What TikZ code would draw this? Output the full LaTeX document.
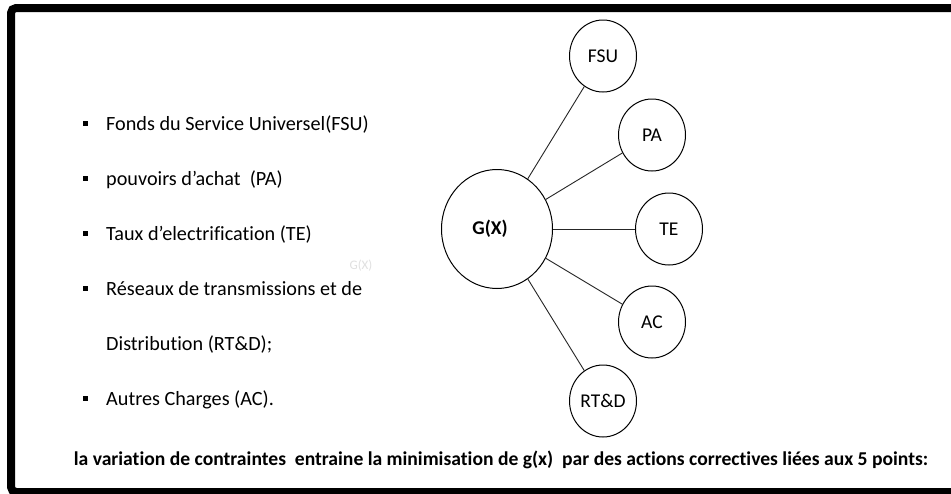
\documentclass[tikz,border=0pt]{standalone}
\usepackage{fontspec}
\setmainfont[Ligatures=NoCommon]{Carlito}
\usetikzlibrary{shapes.geometric}
\begin{document}
\begin{tikzpicture}[x=1pt,y=-1pt,
  item/.style={anchor=base west,inner sep=0pt,font=\fontsize{20.2}{22}\selectfont},
  bul/.style={fill=black,minimum size=5pt,inner sep=0pt},
  small/.style={draw,ellipse,line width=1pt,minimum width=67pt,minimum height=72pt,inner sep=0pt,font=\fontsize{19.5}{21}\selectfont},
  big/.style={draw,ellipse,line width=1pt,minimum width=111pt,minimum height=119pt,inner sep=0pt,font=\bfseries\fontsize{19.5}{21}\selectfont},
  link/.style={line width=0.9pt,draw=black!85}]
\clip (0,0) rectangle (951,493);
\fill[white] (0,0) rectangle (951,493);
\draw[line width=8pt,rounded corners=5pt] (11,8) rectangle (960,492);

% bullets and list
\node[bul] (b1) at (85,123) {};
\node[item] (t1) at (106,130) {Fonds du Service Universel(FSU)};
\node[bul] (b2) at (85,178) {};
\node[item] (t2) at (106,185) {pouvoirs d’achat\ \ (PA)};
\node[bul] (b3) at (85,233) {};
\node[item] (t3) at (106,240) {Taux d’electrification (TE)};
\node[bul] (b4) at (85,288) {};
\node[item] (t4) at (106,295) {Réseaux de transmissions et de};
\node[item] (t5) at (106,350) {Distribution (RT\&D);};
\node[bul] (b6) at (85,398) {};
\node[item] (t6) at (106,405) {Autres Charges (AC).};

% watermark
\node[text=black!12,font=\fontsize{13}{15}\selectfont,inner sep=0pt] (wm) at (361,266) {G(X)};

% circles
\node[big] (g) at (497,229) {\hspace*{-14pt}G(X)};
\node[small] (fsu) at (603,56) {FSU};
\node[small] (pa) at (652,135) {PA};
\node[small] (te) at (669,229) {TE};
\node[small] (ac) at (652,322) {AC};
\node[small] (rtd) at (603,401) {RT\&D};

\draw[link] (g) -- (fsu);
\draw[link] (g) -- (pa);
\draw[link] (g) -- (te);
\draw[link] (g) -- (ac);
\draw[link] (g) -- (rtd);

% bottom sentence
\node[anchor=base,inner sep=0pt,font=\bfseries\fontsize{19.6}{21}\selectfont] (caption) at (501,465) {la variation de contraintes\ \ entraine la minimisation de g(x)\ \ par des actions correctives liées aux 5 points:};
\end{tikzpicture}
\end{document}
